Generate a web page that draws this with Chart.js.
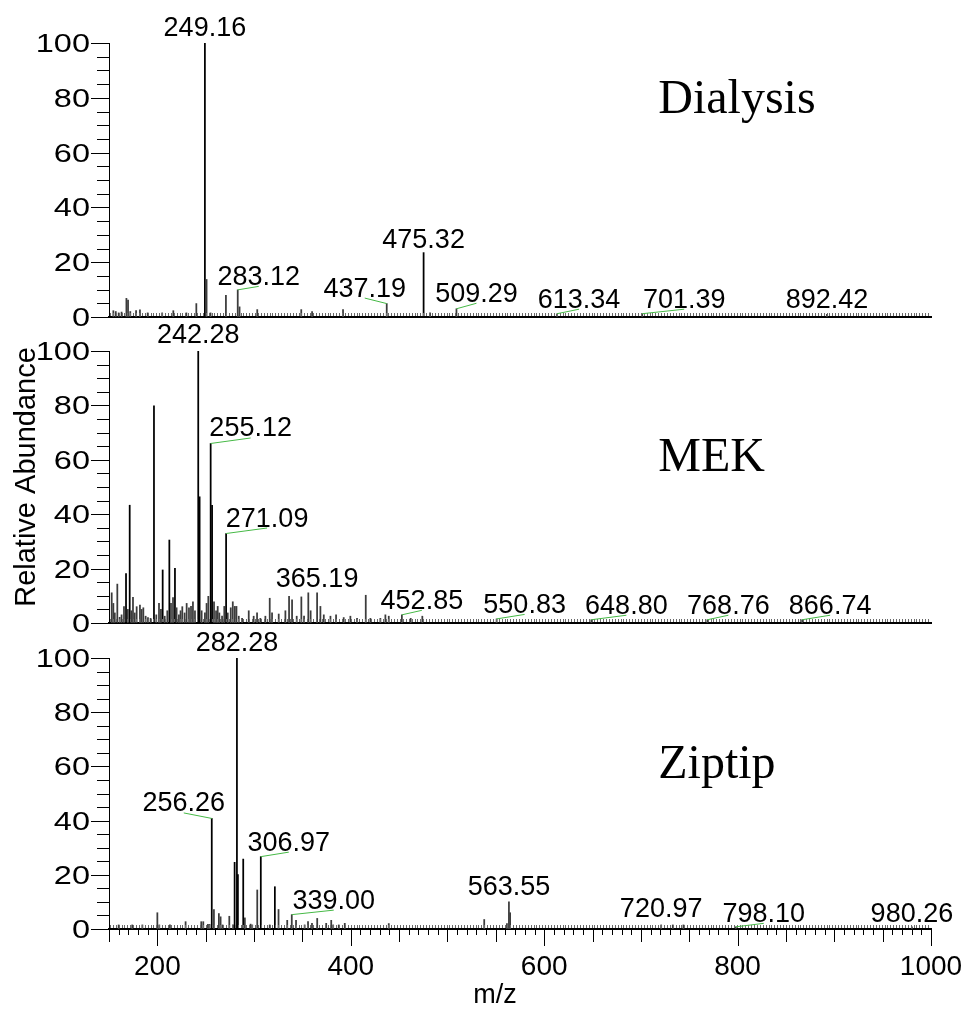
<!DOCTYPE html>
<html>
<head>
<meta charset="utf-8">
<script src="https://cdn.jsdelivr.net/npm/chart.js@4.4.1/dist/chart.umd.min.js"></script>
<style>
  html, body { margin: 0; padding: 0; background: #fff; }
  #wrap { position: relative; width: 966px; height: 1014px; overflow: hidden; }
  #wrap canvas { position: absolute; left: 0; }
</style>
</head>
<body>
<div id="wrap">
  <canvas id="c1" width="966" height="340" style="top:0px"></canvas>
  <canvas id="c2" width="966" height="330" style="top:310px"></canvas>
  <canvas id="c3" width="966" height="399" style="top:615px"></canvas>
</div>
<script>
// m/z range shared by all three spectra
const MZ_MIN = 150, MZ_MAX = 1000;

// --- Dialysis ---
const dialysisMz  = [154.5, 157, 160, 163, 168, 169.7, 172, 178, 182, 190, 205, 216.5, 230, 240.3,
                     249.16, 250.9, 255, 270.9, 283.12, 285, 303.3, 348.8, 360, 392, 437.19, 475.32,
                     482, 509.29, 613.34, 701.39, 892.42];
const dialysisInt = [2.3, 2, 1.5, 1.8, 6.8, 6.2, 2, 2.3, 2.6, 1.5, 1.5, 2.3, 1.5, 4.9,
                     100, 13.7, 1.5, 7.9, 9.9, 3.7, 2.7, 2.7, 2, 2.7, 4.9, 23.5,
                     1.5, 3, 1.2, 1.2, 1];
const dialysisTags = [249.16, 283.12, 437.19, 475.32, 509.29, 613.34, 701.39, 892.42];

// --- MEK ---
const mekMz  = [152.8, 154.5, 156, 158.6, 161, 163, 165.5, 167.6, 169.5, 171.4, 173, 174.8, 176.6, 178.6,
                182, 183.7, 185.5, 187.9, 190.3, 193, 196.5, 198.9, 201.7, 203.7, 205.5, 207.6, 210.3,
                212.4, 214.1, 216.2, 218.2, 219.9, 222.3, 224, 225.8, 228.2, 230.3, 232.7, 234.8, 236.8,
                238.9, 242.28, 243.7, 245.8, 249.2, 250.9, 252.7, 255.12, 256.6, 258.6, 260.7, 262.4,
                264.1, 266.9, 269.2, 271.09, 272.8, 275.9, 278, 280.1, 281.8, 284.2, 287.6, 294.5,
                299.6, 303.1, 306.5, 311.7, 316.2, 318.6, 325.5, 332.4, 336.2, 339.3, 344.1, 348.9,
                351.7, 356.1, 358.5, 365.19, 368.6, 372.1, 379, 384.8, 392.7, 399.6, 406.5, 415.5,
                420.3, 430.6, 435.8, 439.3, 452.85, 462, 474, 550.83, 648.80, 768.76, 866.74];
const mekInt = [11.1, 7.2, 3.7, 14.3, 2.1, 3, 6, 18.2, 5, 43.3, 4.5, 9.4, 3.7, 6,
                6.6, 5, 5.6, 2.5, 2, 1.7, 79.8, 3, 7.2, 5, 19.5, 2.5, 4.5,
                30.5, 7.2, 9.3, 20.1, 5.6, 3, 4.5, 6, 3.7, 7.2, 5.6, 6.1, 7.8,
                4.5, 100, 46.4, 4.5, 3.7, 7.2, 9.8, 66, 43.3, 7.8, 4.5, 6.1,
                3.7, 2.5, 6.1, 32.9, 3.7, 5.6, 7.8, 6.1, 6.1, 2.5, 1.7, 4.5,
                2.5, 3.7, 1.7, 2.5, 9.1, 3.7, 3.3, 4.5, 9.8, 8.5, 2.5, 9.6,
                2.5, 11.1, 4.5, 11.1, 6.1, 3, 2.5, 3, 2, 2.5, 1.7, 10.2,
                1.7, 1.7, 3, 2.5, 3, 1.7, 2.5, 1.5, 1.2, 1.2, 1.2];
const mekTags = [242.28, 255.12, 271.09, 365.19, 452.85, 550.83, 648.80, 768.76, 866.74];

// --- Ziptip ---
const ziptipMz  = [160, 174, 184.5, 200, 202, 213, 229.2, 245.4, 247.5, 252.3, 254, 256.26, 258.5,
                   263.6, 265.4, 267.4, 274.4, 278.2, 279.9, 282.28, 283.3, 288.8, 290.5, 296.4,
                   298.1, 303.3, 306.97, 316.2, 321.5, 325.3, 334.3, 339.00, 343.4, 352.3, 355.8,
                   359.9, 365.3, 374.6, 379.8, 381.8, 387.6, 393.8, 439.3, 538, 561.5, 563.55, 564.8,
                   720.97, 733, 744, 798.10, 980.26];
const ziptipInt = [1.5, 1.5, 1.5, 6, 1.5, 1.5, 2.7, 2.7, 2.7, 1.7, 1.7, 40.8, 7.2,
                   5.7, 4.5, 1.5, 4.7, 1.5, 24.6, 100, 20.1, 25.8, 4.1, 1.8,
                   1.5, 14.4, 26.7, 1.5, 15.6, 7.2, 3.2, 5.3, 3.2, 1.5, 2.7,
                   2.1, 3.9, 2.1, 3.2, 1.5, 1.5, 2.1, 2, 3.5, 2, 10, 6,
                   1.5, 1.5, 1.5, 0.8, 0.8];
const ziptipTags = [282.28, 256.26, 306.97, 339.00, 563.55, 720.97, 798.10, 980.26];

// label offsets from the peak top, in px: [dx to text centre, dy to text baseline]
const dialysisTagPos = [[0, -7], [21, -5], [-22, -7], [0, -5], [20, -7], [22, -6], [42, -6], [0, -6]];
const mekTagPos      = [[0, -8], [40, -7], [41, -7], [0, -6], [20, -6], [28, -6], [35, -6], [21, -6], [28, -6]];
const ziptipTagPos   = [[0, -7], [-28, -7], [28, -6], [42, -6], [0, -7], [0, -8], [28, -5], [0, -5]];

const LABEL_FONT = '27px "Liberation Sans", Arial, sans-serif';
const GREEN = 'rgb(70,185,70)';

const decor = {
  id: 'decor',
  afterDraw(chart, args, o) {
    const ctx = chart.ctx;
    const xs = chart.scales.x, ys = chart.scales.y;
    const a = chart.chartArea;
    ctx.save();

    // noise comb along the baseline
    ctx.strokeStyle = '#6a6a6a';
    ctx.lineWidth = 1;
    ctx.beginPath();
    for (let m = MZ_MIN + 1; m < MZ_MAX; m += 3) {
      const x = Math.round(xs.getPixelForValue(m)) + 0.5;
      ctx.moveTo(x, a.bottom - 1);
      ctx.lineTo(x, a.bottom - 4);
    }
    ctx.stroke();

    // y ticks, major every 20, minor every 5
    ctx.strokeStyle = '#000';
    ctx.beginPath();
    for (let v = 0; v <= 100; v += 5) {
      const y = Math.round(ys.getPixelForValue(v)) + 0.5;
      const len = v % 20 === 0 ? 18 : 12;
      ctx.moveTo(a.left - len, y);
      ctx.lineTo(a.left, y);
    }
    ctx.stroke();

    // y tick labels (wide face)
    ctx.fillStyle = '#000';
    ctx.font = '25px "Liberation Sans", Arial, sans-serif';
    ctx.textAlign = 'right';
    ctx.textBaseline = 'alphabetic';
    for (let v = 0; v <= 100; v += 20) {
      const y = ys.getPixelForValue(v);
      ctx.save();
      ctx.translate(a.left - 19, y + 9);
      ctx.scale(1.3, 1);
      ctx.fillText(String(v), 0, 0);
      ctx.restore();
    }

    // peak labels with leader lines
    const ds = chart.data.datasets[0].data;
    ctx.font = LABEL_FONT;
    ctx.textAlign = 'center';
    o.tags.forEach((mz, i) => {
      const pt = ds.find(p => p.x === mz);
      const px = xs.getPixelForValue(pt.x);
      const py = ys.getPixelForValue(pt.y);
      const [dx, dy] = o.tagPos[i];
      if (Math.abs(dx) > 4) {
        ctx.strokeStyle = GREEN;
        ctx.beginPath();
        ctx.moveTo(px, py);
        ctx.lineTo(px + dx, py + dy + 1.5);
        ctx.stroke();
      }
      ctx.fillStyle = '#000';
      ctx.fillText(mz.toFixed(2), px + dx, py + dy);
    });

    // sample name
    ctx.font = '48px "Liberation Serif", "Times New Roman", serif';
    ctx.textAlign = 'left';
    ctx.fillText(o.name, xs.getPixelForValue(o.nameAt[0]), ys.getPixelForValue(o.nameAt[1]));

    if (o.yTitle) {
      ctx.save();
      ctx.font = '29px "Liberation Sans", Arial, sans-serif';
      ctx.textAlign = 'center';
      ctx.translate(35, (a.top + a.bottom) / 2 - 10);
      ctx.rotate(-Math.PI / 2);
      ctx.fillText(o.yTitle, 0, 0);
      ctx.restore();
    }

    if (o.xAxis) {
      // x ticks: 10 / 50 / 200
      ctx.strokeStyle = '#000';
      ctx.beginPath();
      for (let m = MZ_MIN; m <= MZ_MAX; m += 10) {
        const x = Math.round(xs.getPixelForValue(m)) + 0.5;
        const len = m % 200 === 0 ? 16 : (m % 50 === 0 ? 12 : 5);
        ctx.moveTo(x, a.bottom + 1);
        ctx.lineTo(x, a.bottom + 1 + len);
      }
      ctx.stroke();
      ctx.font = '28px "Liberation Sans", Arial, sans-serif';
      ctx.textAlign = 'center';
      for (let m = 200; m <= MZ_MAX; m += 200) {
        ctx.fillText(String(m), xs.getPixelForValue(m), a.bottom + 46);
      }
      ctx.font = '27px "Liberation Sans", Arial, sans-serif';
      ctx.fillText('m/z', 495, a.bottom + 74);
    }
    ctx.restore();
  }
};

function spectrum(id, mz, inten, cfg) {
  const pts = mz.map((m, i) => ({ x: m, y: inten[i] }));
  return new Chart(document.getElementById(id), {
    type: 'bar',
    data: {
      datasets: [{
        data: pts,
        barThickness: 1.1,
        backgroundColor: pts.map(p => p.y >= 15 ? '#000' : '#3c3c3c'),
        borderWidth: 0
      }]
    },
    options: {
      responsive: false,
      animation: false,
      events: [],
      layout: { padding: { top: cfg.top, right: 35, left: 0, bottom: 0 } },
      plugins: {
        legend: { display: false },
        tooltip: { enabled: false },
        decor: cfg
      },
      scales: {
        x: {
          type: 'linear', min: MZ_MIN, max: MZ_MAX, offset: false,
          ticks: { display: false },
          grid: { display: false },
          border: { display: true, color: '#000', width: 2 },
          afterFit(s) { s.height = cfg.xh; }
        },
        y: {
          min: 0, max: 100,
          ticks: { display: false },
          grid: { display: false },
          border: { display: true, color: '#000', width: 1 },
          afterFit(s) { s.width = 109; }
        }
      }
    },
    plugins: [decor]
  });
}

spectrum('c1', dialysisMz, dialysisInt, {
  top: 43, xh: 23, name: 'Dialysis', nameAt: [718, 74.5],
  tags: dialysisTags, tagPos: dialysisTagPos
});
spectrum('c2', mekMz, mekInt, {
  top: 41, xh: 17, name: 'MEK', nameAt: [718, 56],
  tags: mekTags, tagPos: mekTagPos, yTitle: 'Relative Abundance'
});
spectrum('c3', ziptipMz, ziptipInt, {
  top: 43, xh: 85, name: 'Ziptip', nameAt: [718, 55.7],
  tags: ziptipTags, tagPos: ziptipTagPos, xAxis: true
});
</script>
</body>
</html>
